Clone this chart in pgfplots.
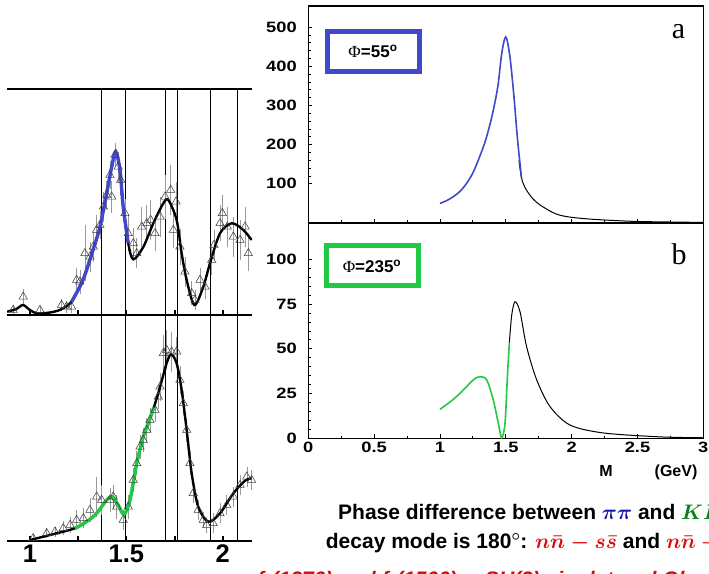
\RequirePackage{fix-cm}
\documentclass[border=0pt]{standalone}
\usepackage{fontspec}
\setmainfont{Liberation Sans}
\newfontfamily\seriffont{Liberation Serif}
\newfontfamily\tickfont[FakeStretch=1.22]{Liberation Sans Bold}
\usepackage{amsmath}
\usepackage{pgfplots}
\pgfplotsset{compat=1.18}
\definecolor{myblue}{RGB}{64,72,204}
\definecolor{mygreen}{RGB}{34,200,68}
\definecolor{txtblue}{RGB}{20,20,175}
\definecolor{txtgreen}{RGB}{10,128,20}
\definecolor{txtred}{RGB}{215,10,10}
\pgfplotstableread{
x y e
0.913 5 4
0.965 18.3 8
1.052 5 4
1.164 10 6
1.190 8.3 6
1.216 8.3 6
1.242 35 12
1.259 33.3 12
1.285 61.7 28
1.311 58.3 15
1.329 68.3 15
1.346 85 15
1.363 90 14
1.381 108.3 15
1.398 120 14
1.415 140 14
1.424 118.3 16
1.441 160 12
1.458 148.3 15
1.471 135 15
1.493 101.7 14
1.510 81.7 18
1.536 71.7 15
1.554 61.7 15
1.580 88.3 20
1.606 91.7 18
1.626 95 20
1.649 81.7 18
1.675 98.3 20
1.701 118.3 22
1.730 125 25
1.744 85 18
1.758 113.3 20
1.778 68.3 18
1.804 43.3 15
1.839 21.7 12
1.856 15 10
1.882 35 12
1.908 28.3 12
1.943 55 15
1.955 70 15
1.986 91.7 18
1.998 101.7 18
2.024 88.3 20
2.055 78.3 20
2.090 75 20
2.116 88.3 20
2.133 61.7 18
}\upperdata
\pgfplotstableread{
x y e
1.017 2.7 3
1.087 7.7 5
1.130 9.3 5
1.173 12.7 7
1.208 16 8
1.242 21 10
1.277 22.7 10
1.311 31 12
1.346 44.3 20
1.372 41 15
1.415 41 12
1.432 44.3 12
1.450 34.3 12
1.484 21 10
1.510 34.3 12
1.536 61 12
1.554 77.7 12
1.571 94.3 12
1.588 101 12
1.606 111 12
1.623 121 12
1.649 131 12
1.666 144.3 12
1.675 154.3 14
1.692 187.7 18
1.709 191 20
1.735 189.3 20
1.761 189.3 15
1.778 161 14
1.796 137.7 12
1.813 111 12
1.830 77.7 12
1.847 47.7 10
1.873 31 10
1.899 21 8
1.917 16 8
1.951 17.7 10
1.986 27.7 10
2.021 36 10
2.055 44.3 10
2.090 56 10
2.125 64.3 10
2.150 61 10
}\lowerdata
\pgfplotsset{
  leftpanel/.style={
    anchor=south west, scale only axis, width=245pt, height=226pt,
    xmin=0.881, xmax=2.152, ymin=0, ymax=226,
    axis line style={line width=2.2pt}, separate axis lines,
    y axis line style={draw=none},
    ytick=\empty, xtick={1,1.25,1.5,1.75,2}, xtick pos=bottom, tick align=inside,
    major tick length=5pt, every tick/.style={black, line width=2pt},
    extra x ticks={1.368,1.493,1.703,1.763,1.934,2.074}, extra x tick labels={},
    extra x tick style={grid=major, major tick length=0pt},
    major grid style={black, line width=0.7pt},
    xticklabel style={font=\fontsize{25.5}{26}\selectfont\bfseries},
  },
  tri/.style={only marks, mark=triangle, mark size=4.8pt,
    mark options={draw=black!75, line width=0.55pt, fill=none},
    error bars/.cd, y dir=both, y explicit, error mark=none,
    error bar style={black!40, line width=0.6pt}},
  rightpanel/.style={
    anchor=south west, scale only axis, width=395pt,
    xmin=0, xmax=3, ymin=0,
    axis line style={line width=1.1pt}, tick align=inside,
    xtick={0,0.5,1,1.5,2,2.5,3}, minor x tick num=1,
    xtick pos=bottom, ytick pos=left, minor y tick num=4,
    major tick length=4pt, minor tick length=2.5pt,
    every tick/.style={black, line width=0.8pt},
    tick label style={font=\tickfont\fontsize{15}{15}\selectfont},
    /pgf/number format/assume math mode=true,
    yticklabel style={xshift=-8pt},
  },
}
\begin{document}
\begin{tikzpicture}[x=1pt,y=1pt]
\useasboundingbox (0,0) rectangle (709,573);
\clip (0,0) rectangle (709,573);

% ---------- upper left ----------
\begin{axis}[leftpanel, at={(7pt,258pt)}, xticklabels={}]
\addplot[tri] table[x=x, y=y, y error=e] {\upperdata};
\addplot[black, line width=2.4pt, smooth] coordinates {
(0.882,3.3) (0.93,6) (0.964,10) (1.0,5) (1.035,1.7) (1.104,2.5) (1.16,5.5) (1.216,13.3)
(1.275,35) (1.327,65) (1.363,88) (1.398,121.7) (1.424,148) (1.445,163.3) (1.467,145) (1.484,108) (1.510,71.7)
(1.536,55.7) (1.588,68) (1.640,91.7) (1.692,111.7) (1.718,115) (1.761,95) (1.787,61.7)
(1.813,35) (1.853,10) (1.899,28) (1.934,51.7) (1.986,81.7) (2.047,91.7) (2.107,85) (2.150,75)};
\addplot[myblue, line width=3.4pt, smooth] coordinates {
(1.216,13.3) (1.275,35) (1.327,65) (1.363,88) (1.398,121.7) (1.424,148) (1.445,163.3) (1.467,145) (1.484,108) (1.510,71.7)};
\end{axis}

% ---------- lower left ----------
\begin{axis}[leftpanel, at={(7pt,32pt)}, xticklabels={1,,1.5,,2}]
\addplot[tri] table[x=x, y=y, y error=e] {\lowerdata};
\addplot[black, line width=2.4pt, smooth] coordinates {
(1.0,1) (1.104,6) (1.234,12.7) (1.294,19.3) (1.346,27.7) (1.398,41) (1.427,44.3) (1.458,36)
(1.488,26.7) (1.519,41) (1.554,77.7) (1.588,104.3) (1.614,117.7) (1.643,133.7)
(1.675,154) (1.709,177.7) (1.732,186.7) (1.761,177.7) (1.787,151) (1.813,111) (1.839,67.7)
(1.873,34.3) (1.925,19.3) (1.986,27.7) (2.055,47.7) (2.116,60.3) (2.150,62.7)};
\addplot[mygreen, line width=3.4pt, smooth] coordinates {
(1.234,12.7) (1.294,19.3) (1.346,27.7) (1.398,41) (1.427,44.3) (1.458,36)
(1.488,26.7) (1.519,41) (1.554,77.7) (1.588,104.3) (1.614,117.7) (1.643,133.7)};
\end{axis}

% ---------- panel a ----------
\begin{axis}[rightpanel, at={(308.3pt,350pt)}, height=217pt, ymax=554,
  ytick={100,200,300,400,500}, xticklabels={}]
\addplot[black, line width=1pt, smooth] coordinates {
(1.60,160) (1.62,114) (1.65,88) (1.70,64) (1.76,46) (1.85,28) (1.91,20) (2.0,14.5)
(2.165,9.4) (2.49,4) (3.0,1.5)};
\addplot[myblue, line width=1.6pt, smooth] coordinates {
(1.0,50) (1.05,57) (1.10,67) (1.15,80) (1.20,100) (1.25,128) (1.30,168) (1.35,215)
(1.40,280) (1.44,350) (1.47,435) (1.50,475) (1.53,428) (1.56,330) (1.59,210) (1.62,114)};
\end{axis}

% ---------- panel b ----------
\begin{axis}[rightpanel, at={(308.3pt,134.7pt)}, height=215.3pt, ymax=120.3,
  ytick={0,25,50,75,100}]
\addplot[black, line width=1pt, smooth] coordinates {
(1.527,53.4) (1.545,68.9) (1.57,76.3) (1.608,70.7) (1.658,51.2) (1.735,32.6)
(1.836,17.7) (1.988,7.4) (2.24,3) (2.67,0.8) (3.0,0.3)};
\addplot[mygreen, line width=1.6pt, smooth] coordinates {
(1.0,16.2) (1.08,20.5) (1.152,25.1) (1.253,32.6) (1.304,34.4) (1.355,32.6) (1.405,21.4)
(1.443,8.4) (1.469,0.3) (1.494,8.4) (1.512,34.4) (1.527,53.4)};
\end{axis}

% ---------- annotations ----------
\node[anchor=base, font=\seriffont\fontsize{30}{30}\selectfont] at (678.5,534.7) {a};
\node[anchor=base, font=\seriffont\fontsize{30}{30}\selectfont] at (679,308) {b};
\draw[myblue, line width=5pt] (327.5,541.5) rectangle (419.5,501.5);
\node[font=\fontsize{17}{17}\selectfont\bfseries] at (373,522) {{\seriffont\mdseries Φ}=55\textsuperscript{o}};
\draw[mygreen, line width=5pt] (326.5,327.5) rectangle (418.5,287.5);
\node[font=\fontsize{17}{17}\selectfont\bfseries] at (372,307) {{\seriffont\mdseries Φ}=235\textsuperscript{o}};
\node[anchor=base, font=\fontsize{16}{16}\selectfont\bfseries] at (606,96) {M};
\node[anchor=base, font=\fontsize{16}{16}\selectfont\bfseries] at (676,96) {(GeV)};

\node[anchor=base west, inner sep=0pt, font=\fontsize{21}{21}\selectfont\bfseries\boldmath] at (338,53.7)
  {Phase difference between \textcolor{txtblue}{$\pi\pi$} and \textcolor{txtgreen}{$K\bar K$}};
\node[anchor=base west, inner sep=0pt, font=\fontsize{21}{21}\selectfont\bfseries\boldmath] at (325.7,24.7)
  {decay mode is 180$^\circ$: \textcolor{txtred}{$n\bar n - s\bar s$} and \textcolor{txtred}{$n\bar n + s\bar s$}};
\node[anchor=base west, inner sep=0pt, font=\fontsize{21}{21}\selectfont\bfseries\itshape, txtred] at (257,-13)
  {f$_0$(1370) and f$_0$(1500) $\sim$ SU(3) singlet and Glueball};
\end{tikzpicture}
\end{document}
